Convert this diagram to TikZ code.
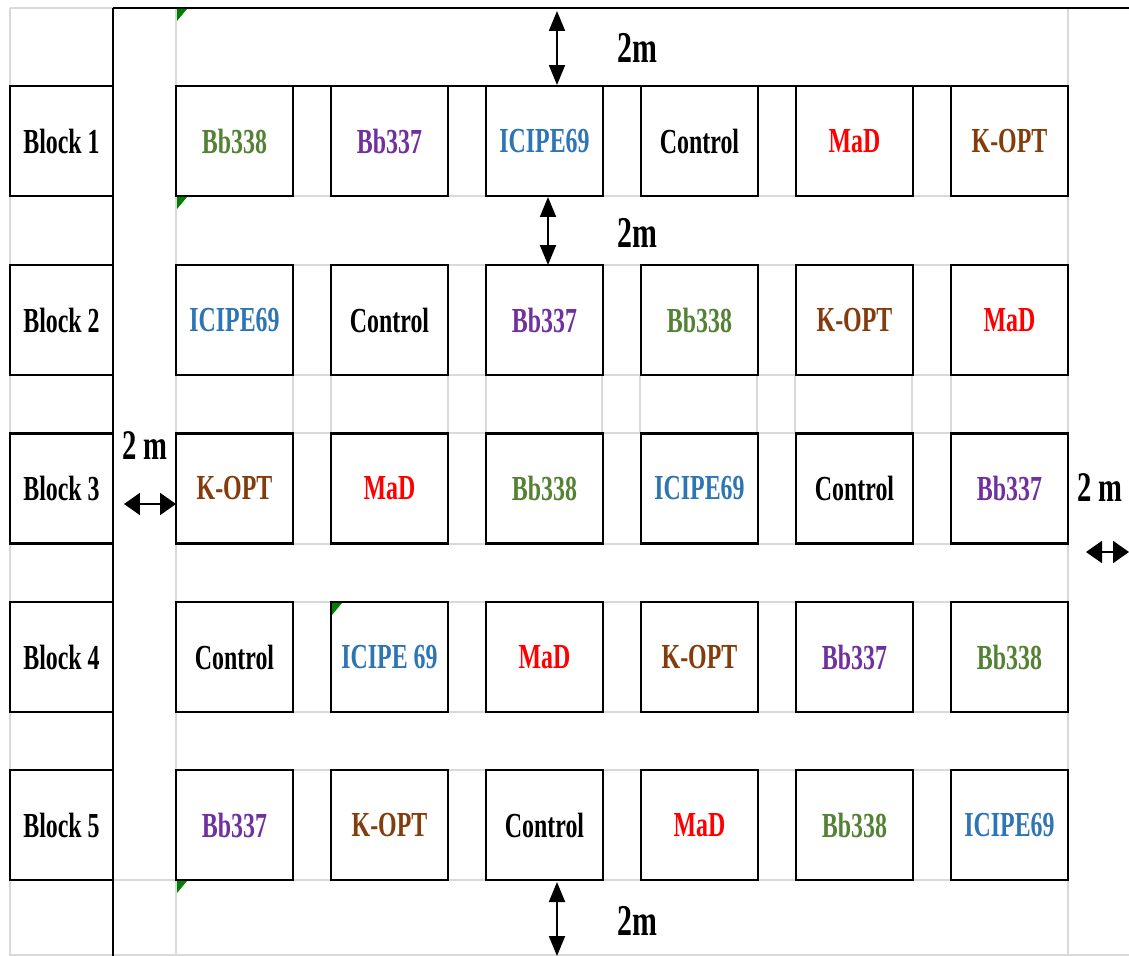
\documentclass[tikz,border=0pt]{standalone}
\usepackage{fontspec}
\setmainfont[FakeStretch=0.68]{Liberation Serif}
\usetikzlibrary{arrows.meta}

\definecolor{bbgreen}{HTML}{548235}
\definecolor{bbpurple}{HTML}{7030A0}
\definecolor{icblue}{HTML}{2E75B6}
\definecolor{madred}{HTML}{FF0000}
\definecolor{koptbrown}{HTML}{843C0C}
\definecolor{gridgrey}{HTML}{D9D9D9}
\definecolor{markgreen}{HTML}{008000}

\begin{document}
\begin{tikzpicture}[
  x=0.02cm,
  y=-0.02cm,
  plotbox/.style={
    rectangle,
    draw=black,
    line width=1.2pt,
    minimum width=2.34cm,
    minimum height=2.2cm,
    inner sep=0pt,
    font=\fontsize{20}{24}\selectfont\bfseries
  },
  blockbox/.style={plotbox, minimum width=2.06cm},
  gridline/.style={draw=gridgrey, line width=1.2pt},
  wall/.style={draw=black, line width=1.6pt},
  vdim/.style={{Triangle[length=0.4cm,width=0.32cm]}-{Triangle[length=0.4cm,width=0.32cm]}, line width=1.1pt},
  hdim/.style={{Triangle[length=0.32cm,width=0.44cm]}-{Triangle[length=0.32cm,width=0.44cm]}, line width=1.1pt},
  dimlabel/.style={font=\fontsize{25}{30}\selectfont\bfseries},
  marker/.style={fill=markgreen}
]
\useasboundingbox (0,0) rectangle (1129,956);

\draw[gridline] (10,8) -- (113,8);
\draw[gridline] (10,8) -- (10,956);
\draw[gridline] (176,8) -- (176,956);
\draw[gridline] (1068,8) -- (1068,956);
\draw[gridline] (10,955) -- (1129,955);
\draw[gridline] (113,880) -- (176,880);
\foreach \y in {196,265,375,433,544,602,712,770,880}
  \draw[gridline] (176,\y) -- (1068,\y);
\foreach \x in {293,331,448,486,602,640,757,795,912,951}
  \draw[gridline] (\x,375) -- (\x,433);

\draw[wall] (113,8) -- (1129,8);
\draw[black, line width=1.2pt] (113,8) -- (113,956);
\draw[wall] (176,86) -- (1068,86);

\foreach \r/\y in {1/141,2/320,3/488.5,4/657,5/825}
  \node[blockbox] (b\r) at (61.5,\y) {Block \r};

\foreach \j/\txt/\col in {1/Bb338/bbgreen,2/Bb337/bbpurple,3/ICIPE69/icblue,4/Control/black,5/MaD/madred,6/K-OPT/koptbrown}
  \node[plotbox, text=\col] (c1-\j) at ({234.5+155*(\j-1)},141) {\txt};
\foreach \j/\txt/\col in {1/ICIPE69/icblue,2/Control/black,3/Bb337/bbpurple,4/Bb338/bbgreen,5/K-OPT/koptbrown,6/MaD/madred}
  \node[plotbox, text=\col] (c2-\j) at ({234.5+155*(\j-1)},320) {\txt};
\foreach \j/\txt/\col in {1/K-OPT/koptbrown,2/MaD/madred,3/Bb338/bbgreen,4/ICIPE69/icblue,5/Control/black,6/Bb337/bbpurple}
  \node[plotbox, text=\col] (c3-\j) at ({234.5+155*(\j-1)},488.5) {\txt};
\foreach \j/\txt/\col in {1/Control/black,2/ICIPE 69/icblue,3/MaD/madred,4/K-OPT/koptbrown,5/Bb337/bbpurple,6/Bb338/bbgreen}
  \node[plotbox, text=\col] (c4-\j) at ({234.5+155*(\j-1)},657) {\txt};
\foreach \j/\txt/\col in {1/Bb337/bbpurple,2/K-OPT/koptbrown,3/Control/black,4/MaD/madred,5/Bb338/bbgreen,6/ICIPE69/icblue}
  \node[plotbox, text=\col] (c5-\j) at ({234.5+155*(\j-1)},825) {\txt};

\fill[marker] (177,9) -- ++(10,0) -- ++(-10,12) -- cycle;
\fill[marker] (177,197) -- ++(10,0) -- ++(-10,12) -- cycle;
\fill[marker] (332,603) -- ++(10,0) -- ++(-10,12) -- cycle;
\fill[marker] (177,881) -- ++(10,0) -- ++(-10,12) -- cycle;

\coordinate (topa) at (557,11);
\coordinate (topb) at (557,85);
\coordinate (gapa) at (548,197);
\coordinate (gapb) at (548,265);
\coordinate (bota) at (557,882);
\coordinate (botb) at (557,956);
\coordinate (lefta) at (124,504);
\coordinate (leftb) at (176,504);
\coordinate (righta) at (1086,552);
\coordinate (rightb) at (1129,552);

\draw[vdim] (topa) -- (topb);
\draw[vdim] (gapa) -- (gapb);
\draw[vdim] (bota) -- (botb);
\draw[hdim] (lefta) -- (leftb);
\draw[hdim] (righta) -- (rightb);

\node[dimlabel] (toplabel) at (637,48) {2m};
\node[dimlabel] (gaplabel) at (637,233) {2m};
\node[dimlabel] (botlabel) at (637,921) {2m};
\node[dimlabel, font=\fontsize{24}{28}\selectfont\bfseries] (leftlabel) at (145,446) {2 m};
\node[dimlabel, font=\fontsize{24}{28}\selectfont\bfseries] (rightlabel) at (1100,488) {2 m};

\end{tikzpicture}
\end{document}
